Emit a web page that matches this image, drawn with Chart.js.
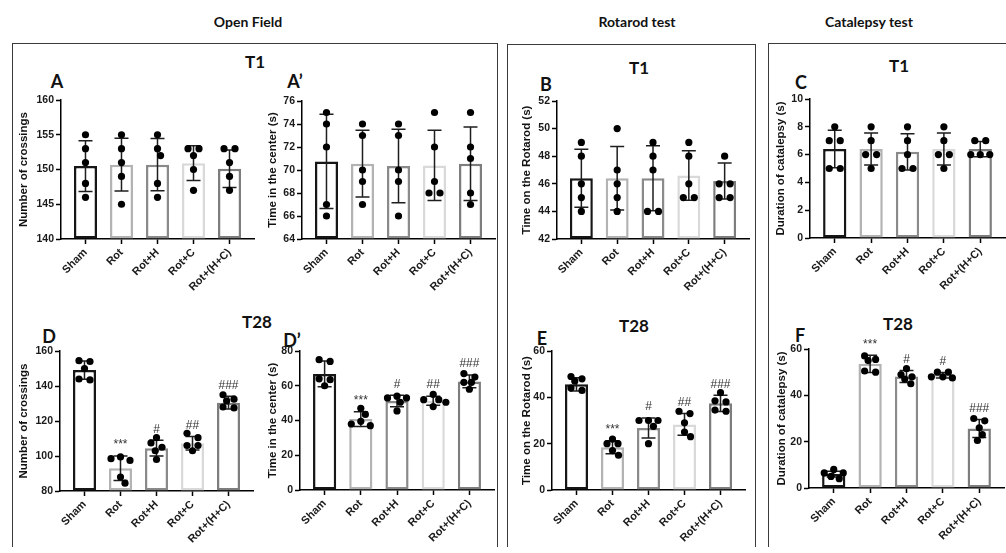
<!DOCTYPE html>
<html><head><meta charset="utf-8">
<script src="https://cdn.jsdelivr.net/npm/chart.js@4.4.1/dist/chart.umd.min.js"></script>
<style>
html,body{margin:0;padding:0;background:#fff;}
#wrap{position:relative;width:1006px;height:553px;overflow:hidden;background:#fff;}
.box{position:absolute;border:1.5px solid #3a3a3a;border-bottom:none;box-sizing:border-box;}
.lbl{position:absolute;transform:translate(-50%,-50%);font-family:Lato,'Open Sans',sans-serif;font-weight:700;color:#111;white-space:nowrap;line-height:1;}
canvas{position:absolute;}
</style></head><body><div id="wrap"></div>
<script>
// ---------- DATA ----------
const categories = ['Sham', 'Rot', 'Rot+H', 'Rot+C', 'Rot+(H+C)'];

// A: Open field T1, number of crossings
const aTicks = [140, 145, 150, 155, 160];
const aMeans = [150.5, 150.7, 150.7, 150.9, 150.1];
const aSD = [3.65, 3.8, 3.75, 2.5, 2.7];
const aPoints = [[155, 153, 151, 148, 146], [155, 153, 151, 149, 145], [155, 153, 152, 148, 146], [153, 153, 152, 150, 147], [153, 153, 151, 149, 147]];

// A': Open field T1, time in the center
const a2Ticks = [64, 66, 68, 70, 72, 74, 76];
const a2Means = [70.75, 70.55, 70.35, 70.4, 70.55];
const a2SD = [4.1, 2.9, 3.2, 3.05, 3.2];
const a2Points = [[75, 74, 72, 67, 66], [74, 73, 70, 69, 67], [74, 73, 70, 69, 66], [75, 72, 69, 68, 68], [75, 72, 71, 68, 67]];

// B: Rotarod T1
const bTicks = [42, 44, 46, 48, 50, 52];
const bMeans = [46.4, 46.4, 46.4, 46.6, 46.2];
const bSD = [2.1, 2.3, 2.35, 1.8, 1.3];
const bPoints = [[49, 48, 46, 45, 44], [50, 47, 46, 45, 44], [49, 48, 47, 44, 44], [49, 48, 46, 45, 45], [48, 46, 46, 45, 45]];

// C: Catalepsy T1
const cTicks = [0, 2, 4, 6, 8, 10];
const cMeans = [6.4, 6.4, 6.2, 6.4, 6.4];
const cSD = [1.35, 1.15, 1.3, 1.15, 0.55];
const cPoints = [[8, 7, 7, 5, 5], [8, 7, 6, 6, 5], [8, 7, 6, 5, 5], [8, 7, 6, 6, 5], [7, 7, 6, 6, 6]];

// D: Open field T28, number of crossings
const dTicks = [80, 100, 120, 140, 160];
const dMeans = [149.1, 93.0, 104.5, 107.3, 130.5];
const dSD = [5.2, 7.0, 4.5, 3.9, 3.6];
const dPoints = [[154.5, 154, 150, 144, 143.5], [99.5, 98.5, 97.5, 88, 84.5], [110.5, 107.5, 105, 103, 98], [113, 110.5, 106, 106, 103], [135, 132.5, 131.5, 128, 127.5]];
const dMarks = ['', '***', '#', '##', '###'];

// D': Open field T28, time in the center
const d2Ticks = [0, 20, 40, 60, 80];
const d2Means = [66.8, 40.8, 51.2, 51.4, 62.5];
const d2SD = [7.4, 4.3, 3.3, 2.6, 3.7];
const d2Points = [[75, 74, 64, 63.5, 60], [47, 43.5, 39.5, 38, 37], [54, 53, 53, 50.5, 45.5], [55, 52, 52, 50.5, 48], [67, 65, 62, 62, 58]];
const d2Marks = ['', '***', '#', '##', '###'];

// E: Rotarod T28
const eTicks = [0, 20, 40, 60];
const eMeans = [45.6, 18.5, 26.8, 28.3, 37.4];
const eSD = [2.9, 2.8, 4.3, 4.7, 3.5];
const ePoints = [[49, 48, 47, 44, 43], [22, 20, 20, 17, 15], [30, 30, 30, 27.5, 20], [34, 33, 29, 25, 23], [42, 38.5, 38, 34.5, 34]];
const eMarks = ['', '***', '#', '##', '###'];

// F: Catalepsy T28
const fTicks = [0, 20, 40, 60];
const fMeans = [6.0, 53.6, 48.1, 48.7, 25.7];
const fSD = [1.2, 3.7, 2.6, 1.2, 3.9];
const fPoints = [[8, 6.5, 6.5, 5, 4], [57, 55.5, 55, 50.5, 50], [51.5, 49, 48, 47, 45], [50, 50, 48, 48, 47.5], [30, 29, 26, 23, 20.5]];
const fMarks = ['', '***', '#', '#', '###'];

// ---------- STYLE / LAYOUT ----------
const barColors = ['#161616', '#b3b3b3', '#8a8a8a', '#d9d9d9', '#7d7d7d'];
const XMIN = -0.68, XMAX = 4.68;
const FONT = "'Liberation Sans', Arial, sans-serif";

const panels = [
  {pts: aPoints, mean: aMeans, sd: aSD, ticks: aTicks, title: 'Number of crossings', marks: null, rect: [61, 100, 254, 239], tdist: 37},
  {pts: a2Points, mean: a2Means, sd: a2SD, ticks: a2Ticks, title: 'Time in the center (s)', marks: null, rect: [302, 101, 495, 239], tdist: 29},
  {pts: bPoints, mean: bMeans, sd: bSD, ticks: bTicks, title: 'Time on the Rotarod (s)', marks: null, rect: [557, 101, 749, 239], tdist: 30},
  {pts: cPoints, mean: cMeans, sd: cSD, ticks: cTicks, title: 'Duration of catalepsy (s)', marks: null, rect: [810, 99, 1005, 238], tdist: 29},
  {pts: dPoints, mean: dMeans, sd: dSD, ticks: dTicks, title: 'Number of crossings', marks: dMarks, rect: [60, 351, 253, 491], tdist: 36},
  {pts: d2Points, mean: d2Means, sd: d2SD, ticks: d2Ticks, title: 'Time in the center (s)', marks: d2Marks, rect: [300, 351, 494, 490], tdist: 27},
  {pts: ePoints, mean: eMeans, sd: eSD, ticks: eTicks, title: 'Time on the Rotarod (s)', marks: eMarks, rect: [552, 351, 745, 490], tdist: 25},
  {pts: fPoints, mean: fMeans, sd: fSD, ticks: fTicks, title: 'Duration of catalepsy (s)', marks: fMarks, rect: [809, 349, 1004, 488], tdist: 27}
];

const texts = [
  ['Open Field', 248, 22, 14], ['Rotarod test', 637, 22, 14], ['Catalepsy test', 869, 22, 14],
  ['T1', 255, 61, 17], ['T1', 639, 67, 17], ['T1', 899, 65, 17],
  ['T28', 257, 321, 17], ['T28', 634, 325, 17], ['T28', 898, 323, 17],
  ['A', 57, 81, 18], ['A’', 295, 81, 18], ['B', 546, 84, 18], ['C', 801, 82, 18],
  ['D', 49, 336, 18], ['D’', 292, 340, 18], ['E', 542, 338, 18], ['F', 800, 335, 18]
];
const boxes = [[12, 43, 498, 547], [507, 44, 756, 547], [768, 43, 1012, 547]];

const wrap = document.getElementById('wrap');
boxes.forEach(([l, t, r, b]) => {
  const d = document.createElement('div');
  d.className = 'box';
  Object.assign(d.style, {left: l + 'px', top: t + 'px', width: (r - l) + 'px', height: (b - t) + 'px'});
  wrap.appendChild(d);
});
texts.forEach(([s, x, y, f]) => {
  const d = document.createElement('div');
  d.className = 'lbl'; d.textContent = s;
  Object.assign(d.style, {left: x + 'px', top: y + 'px', fontSize: f + 'px'});
  wrap.appendChild(d);
});

// horizontal placement of dots (GraphPad-like rows, then collision avoidance)
function layoutDots(values, pxPerY, pxPerX) {
  const D = 7.6;
  const idx = values.map((v, i) => i).sort((a, b) => values[b] - values[a]);
  const offs = new Array(values.length).fill(0);
  const rows = [];
  let cur = null;
  idx.forEach(i => {
    if (cur && (values[cur[0]] - values[i]) * pxPerY < 4.5) cur.push(i);
    else { cur = [i]; rows.push(cur); }
  });
  rows.forEach(row => {
    const n = row.length;
    if (n === 1) return;
    const p = n === 2 ? 11 : 9.5;
    if (n % 2 === 1) {
      row.forEach((i, k) => { const m = Math.ceil(k / 2); offs[i] = (k === 0 ? 0 : (k % 2 === 1 ? -m : m)) * p; });
    } else {
      row.forEach((i, k) => { offs[i] = (k - (n - 1) / 2) * p; });
    }
  });
  const placed = [];
  idx.forEach(i => {
    for (let it = 0; it < 4; it++) {
      let moved = false;
      for (const j of placed) {
        const dy = (values[i] - values[j]) * pxPerY;
        const dx = offs[i] - offs[j];
        if (Math.abs(dy) < D && Math.hypot(dx, dy) < D - 0.6) {
          const need = Math.sqrt(D * D - dy * dy);
          const dir = dx !== 0 ? Math.sign(dx) : (offs[j] > 0 ? -1 : 1);
          offs[i] = offs[j] + dir * need;
          moved = true;
        }
      }
      if (!moved) break;
    }
    placed.push(i);
  });
  return offs.map(o => o / pxPerX);
}

panels.forEach((p, pi) => {
  const [l, t, r, b] = p.rect;
  const L = p.tdist + 7, T = 12, RR = 6, B = 64;
  const W = (r - l) + L + RR, H = (b - t) + T + B;
  const cv = document.createElement('canvas');
  cv.width = W; cv.height = H;
  Object.assign(cv.style, {left: (l - L) + 'px', top: (t - T) + 'px', width: W + 'px', height: H + 'px'});
  wrap.appendChild(cv);
  const ymin = p.ticks[0], ymax = p.ticks[p.ticks.length - 1];
  const pxY = (b - t) / (ymax - ymin), pxX = (r - l) / (XMAX - XMIN);
  const scatterData = [];
  p.pts.forEach((arr, g) => {
    const o = layoutDots(arr, pxY, pxX);
    arr.forEach((v, k) => scatterData.push({x: g + o[k], y: v}));
  });

  const errPlugin = {
    id: 'errbars' + pi,
    afterDatasetDraw(chart, args) {
      if (args.index !== 0) return;
      const {ctx, chartArea} = chart;
      const xs = chart.scales.x, ys = chart.scales.y;
      ctx.save();
      ctx.beginPath();
      ctx.rect(chartArea.left, chartArea.top - 3, chartArea.width, chartArea.height + 3);
      ctx.clip();
      ctx.strokeStyle = '#1e1e1e';
      ctx.lineWidth = 1.5;
      p.mean.forEach((m, i) => {
        const x = xs.getPixelForValue(i);
        const y1 = ys.getPixelForValue(m + p.sd[i]);
        const y2 = ys.getPixelForValue(m - p.sd[i]);
        ctx.beginPath();
        ctx.moveTo(x, y1); ctx.lineTo(x, y2);
        ctx.moveTo(x - 7, y1); ctx.lineTo(x + 7, y1);
        ctx.moveTo(x - 7, y2); ctx.lineTo(x + 7, y2);
        ctx.stroke();
      });
      ctx.restore();
    },
    afterDatasetsDraw(chart) {
      if (!p.marks) return;
      const {ctx} = chart;
      const xs = chart.scales.x, ys = chart.scales.y;
      ctx.save();
      ctx.fillStyle = '#333';
      ctx.font = '12px ' + FONT;
      ctx.textAlign = 'center';
      ctx.textBaseline = 'bottom';
      p.marks.forEach((s, i) => {
        if (!s) return;
        const top = Math.max(ys.getPixelForValue(p.mean[i] + p.sd[i]), ys.getPixelForValue(Math.max(...p.pts[i])) - 3);
        ctx.fillText(s, xs.getPixelForValue(i), top - 5);
      });
      ctx.restore();
    }
  };

  const axisGrid = {display: true, drawOnChartArea: false, drawTicks: true, tickLength: 5, color: '#000', tickColor: '#000', tickWidth: 1.5, offset: false};
  const axisBorder = {display: true, color: '#000', width: 1.5};

  new Chart(cv, {
    type: 'bar',
    data: {
      datasets: [
        {type: 'bar', data: p.mean.map((m, i) => ({x: i, y: m})), backgroundColor: '#ffffff', borderColor: barColors,
         borderWidth: 2.5, borderSkipped: false, base: ymin, barPercentage: 0.8, categoryPercentage: 0.8, order: 2},
        {type: 'scatter', data: scatterData, pointRadius: 3.6, pointBackgroundColor: '#000', pointBorderColor: '#000',
         pointBorderWidth: 0, showLine: false, order: 0}
      ]
    },
    options: {
      responsive: false, animation: false, devicePixelRatio: 1,
      layout: {padding: {left: 0, top: T, right: RR, bottom: 0}},
      plugins: {legend: {display: false}, tooltip: {enabled: false}},
      events: [],
      scales: {
        x: {
          type: 'linear', min: XMIN, max: XMAX, offset: false,
          afterBuildTicks: s => { s.ticks = categories.map((c, i) => ({value: i})); },
          afterFit: s => { s.height = B; },
          ticks: {autoSkip: false, minRotation: 45, maxRotation: 45, padding: 2, color: '#1a1a1a',
                  font: {family: FONT, size: 11, weight: 'bold'}, callback: v => categories[v]},
          grid: axisGrid, border: axisBorder
        },
        y: {
          type: 'linear', min: ymin, max: ymax,
          afterBuildTicks: s => { s.ticks = p.ticks.map(v => ({value: v})); },
          afterFit: s => { s.width = L; },
          ticks: {padding: 2, color: '#1a1a1a', font: {family: FONT, size: 10.5, weight: 'bold'}},
          grid: axisGrid, border: axisBorder,
          title: {display: true, text: p.title, color: '#111', padding: {top: 0, bottom: 0},
                  font: {family: FONT, size: 11.5, weight: 'bold'}}
        }
      }
    },
    plugins: [errPlugin]
  });
});
</script></body></html>
